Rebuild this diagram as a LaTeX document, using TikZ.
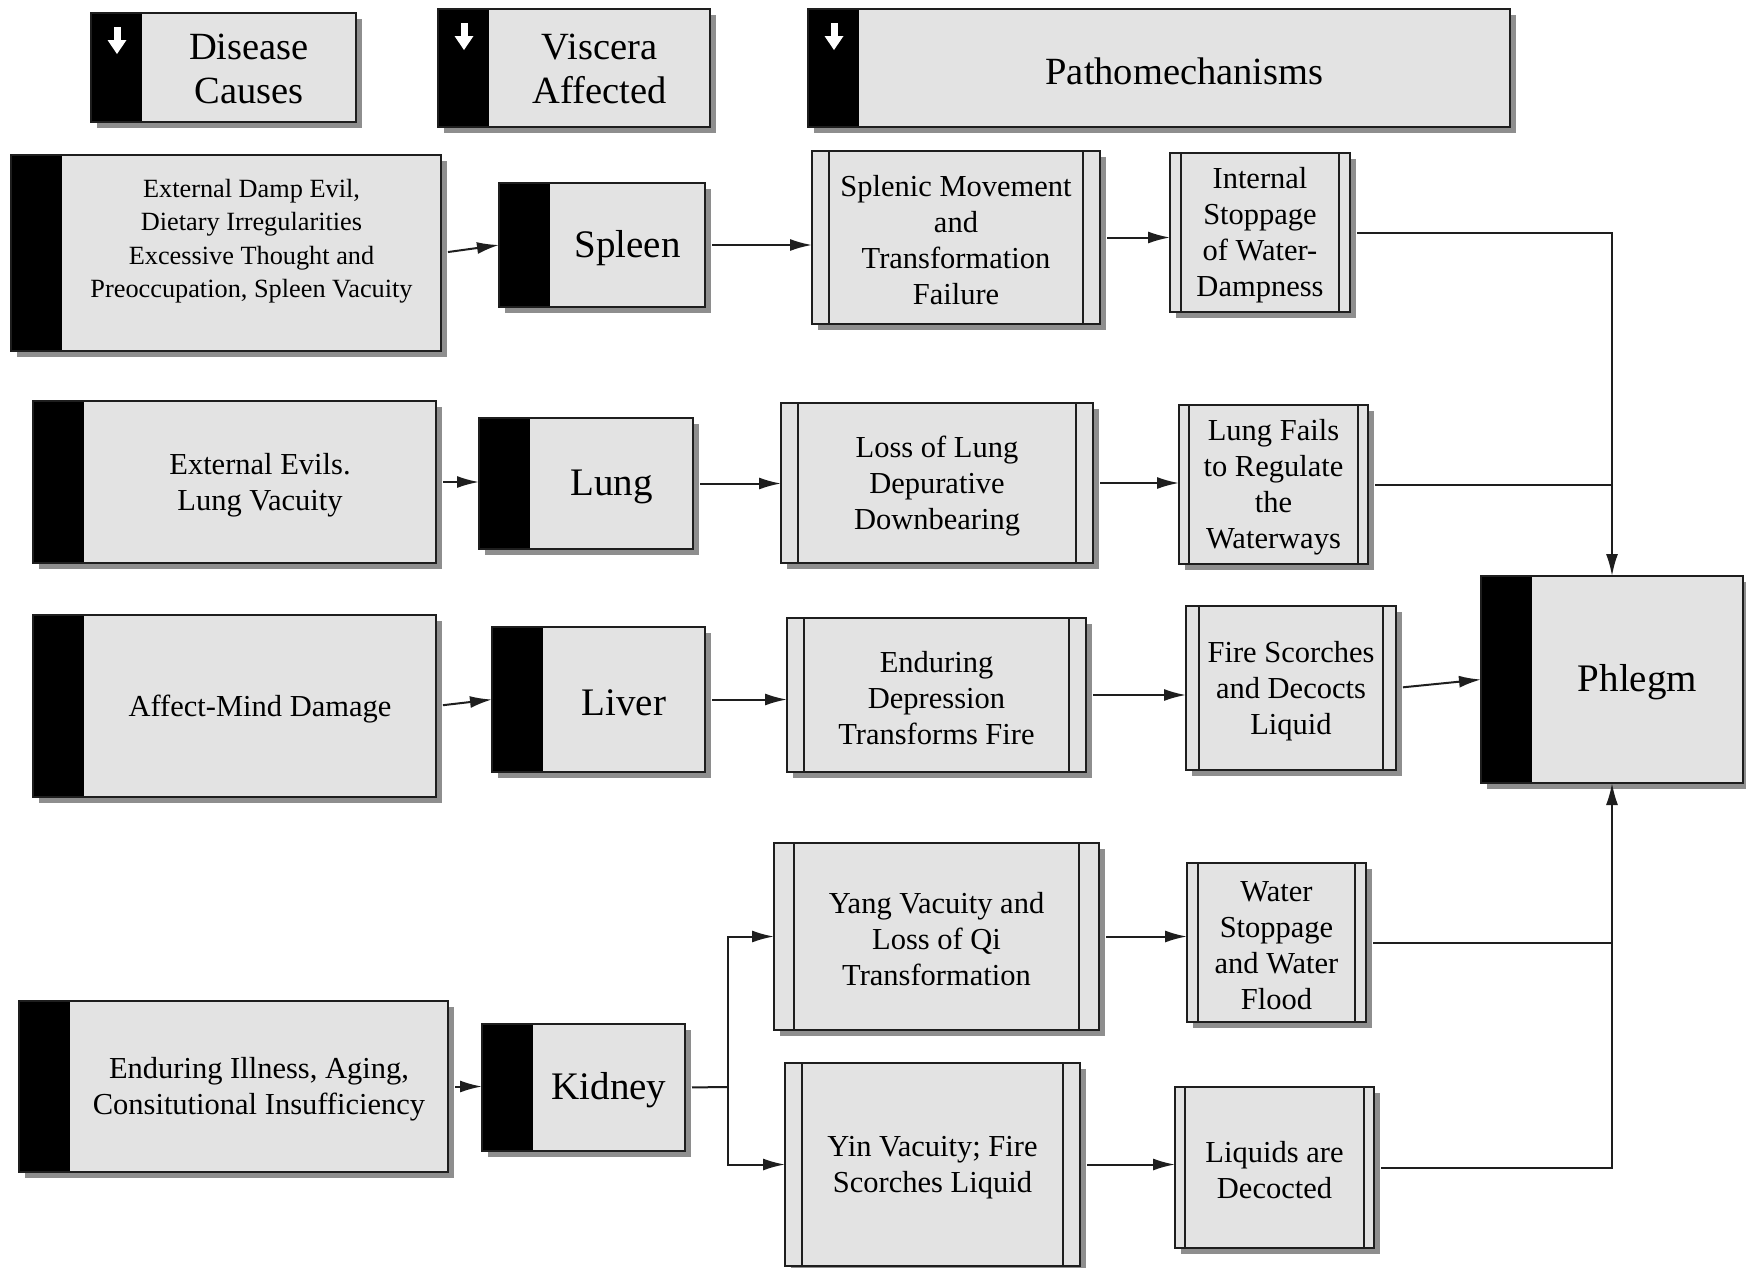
\documentclass[tikz,border=0pt]{standalone}
\usepackage{fontspec}
\setmainfont{Liberation Serif}
\usetikzlibrary{shadows,arrows.meta,calc}
\definecolor{boxgray}{HTML}{E3E3E3}
\definecolor{shadowgray}{HTML}{8E8E8E}
\definecolor{linegray}{HTML}{1E1E1E}
\newcommand\boxat[6]{\node[#1, minimum width={#5-#3}, minimum height={#6-#4}] (#2) at ({(#3+#5)/2},{(#4+#6)/2}) {};}
\newcommand\downarr[2]{%
  \fill[white] (#1-3.5,#2) rectangle (#1+3.5,#2+14);
  \fill[white] (#1-9.5,#2+13) -- (#1+9.5,#2+13) -- (#1,#2+27) -- cycle;}
\begin{document}
\begin{tikzpicture}[x=1pt,y=-1pt,
  boxbase/.style={draw=linegray, fill=boxgray, line width=1.6pt, inner sep=0pt, outer sep=0pt,
    drop shadow={shadow xshift=6pt, shadow yshift=-6pt, fill=shadowgray, opacity=1}},
  barbox/.style={boxbase, path picture={\fill[black] (path picture bounding box.north west) rectangle ([xshift=51pt]path picture bounding box.south west);}},
  dblbox/.style={boxbase, path picture={\draw[linegray,line width=1.6pt]
     ([xshift=#1]path picture bounding box.north west) -- ([xshift=#1]path picture bounding box.south west)
     ([xshift=-#1]path picture bounding box.north east) -- ([xshift=-#1]path picture bounding box.south east);}},
  dblbox/.default=17pt,
  txt/.style={align=center, text=black, inner sep=0pt},
  hfont/.style={txt, font=\fontsize{38.5}{44}\selectfont},
  vfont/.style={txt, font=\fontsize{39}{44}\selectfont},
  mfont/.style={txt, font=\fontsize{30.5}{36}\selectfont},
  sfont/.style={txt, font=\fontsize{26.3}{33.5}\selectfont},
  conn/.style={draw=linegray, line width=2pt, shorten <=7pt},
  arr/.style={conn, -{Latex[length=22pt,width=12pt]}},
  arrk/.style={draw=linegray, line width=2pt, -{Latex[length=22pt,width=12pt]}}
]
\fill[white] (0,0) rectangle (1746,1267);
\useasboundingbox (0,0) rectangle (1746,1267);

% headers
\boxat{barbox}{hdc}{91}{13}{356}{122}
\node[hfont] at ($(hdc.center)+(25.5,1)$) {Disease\\Causes};
\downarr{117}{27}
\boxat{barbox}{hva}{438}{9}{710}{127}
\node[hfont] at ($(hva.center)+(25.5,1)$) {Viscera\\Affected};
\downarr{464}{23}
\boxat{barbox}{hpm}{808}{9}{1510}{127}
\node[hfont] at ($(hpm.center)+(25.5,3)$) {Pathomechanisms};
\downarr{834}{23}

% disease causes
\boxat{barbox}{ca}{11}{155}{441}{351}
\node[sfont] at ($(ca.center)+(25.5,-12)$) {External Damp Evil,\\Dietary Irregularities\\Excessive Thought and\\Preoccupation, Spleen Vacuity};
\boxat{barbox}{cb}{33}{401}{436}{563}
\node[mfont] at ($(cb.center)+(25.5,3)$) {External Evils.\\Lung Vacuity};
\boxat{barbox}{cc}{33}{615}{436}{797}
\node[mfont] at ($(cc.center)+(25.5,3)$) {Affect-Mind Damage};
\boxat{barbox}{cd}{19}{1001}{448}{1172}
\node[mfont] at ($(cd.center)+(25.5,3)$) {Enduring Illness, Aging,\\Consitutional Insufficiency};

% viscera
\boxat{barbox}{spleen}{499}{183}{705}{307}
\node[vfont] at ($(spleen.center)+(25.5,3)$) {Spleen};
\boxat{barbox}{lung}{479}{418}{693}{549}
\node[vfont] at ($(lung.center)+(25.5,3)$) {Lung};
\boxat{barbox}{liver}{492}{627}{705}{772}
\node[vfont] at ($(liver.center)+(25.5,3)$) {Liver};
\boxat{barbox}{kidney}{482}{1024}{685}{1151}
\node[vfont] at ($(kidney.center)+(25.5,3)$) {Kidney};
\boxat{barbox}{phlegm}{1481}{576}{1743}{783}
\node[vfont] at ($(phlegm.center)+(25.5,3)$) {Phlegm};

% mechanisms, first column
\boxat{dblbox}{smtf}{812}{151}{1100}{324}
\node[mfont] at ($(smtf.center)+(0,3)$) {Splenic Movement\\and\\Transformation\\Failure};
\boxat{dblbox}{lldd}{781}{403}{1093}{563}
\node[mfont] at ($(lldd.center)+(0,3)$) {Loss of Lung\\Depurative\\Downbearing};
\boxat{dblbox}{edtf}{787}{618}{1086}{772}
\node[mfont] at ($(edtf.center)+(0,3)$) {Enduring\\Depression\\Transforms Fire};
\boxat{dblbox=20pt}{yang}{774}{843}{1099}{1030}
\node[mfont] at ($(yang.center)+(0,3)$) {Yang Vacuity and\\Loss of Qi\\Transformation};
\boxat{dblbox}{yin}{785}{1063}{1080}{1266}
\node[mfont] at ($(yin.center)+(0,3)$) {Yin Vacuity; Fire\\Scorches Liquid};

% mechanisms, second column
\boxat{dblbox=11pt}{isw}{1170}{153}{1350}{312}
\node[mfont] at ($(isw.center)+(0,3)$) {Internal\\Stoppage\\of Water-\\Dampness};
\boxat{dblbox=10pt}{lfrw}{1179}{405}{1368}{564}
\node[mfont] at ($(lfrw.center)+(0,3)$) {Lung Fails\\to Regulate\\the\\Waterways};
\boxat{dblbox=13pt}{fsdl}{1186}{606}{1396}{770}
\node[mfont] at ($(fsdl.center)+(0,3)$) {Fire Scorches\\and Decocts\\Liquid};
\boxat{dblbox=11pt}{wsf}{1187}{863}{1366}{1022}
\node[mfont] at ($(wsf.center)+(0,3)$) {Water\\Stoppage\\and Water\\Flood};
\boxat{dblbox=10pt}{lad}{1175}{1087}{1374}{1248}
\node[mfont] at ($(lad.center)+(0,3)$) {Liquids are\\Decocted};

% connectors
\draw[arr] (ca.east) -- (spleen.west);
\draw[arr] (spleen.east) -- (spleen.east -| smtf.west);
\draw[arr] (smtf.east) -- (smtf.east -| isw.west);
\draw[arr] (isw.east) -| (phlegm.north);

\draw[arr] (cb.east) -- (cb.east -| lung.west);
\draw[arr] (lung.east) -- (lung.east -| lldd.west);
\draw[arr] (lldd.east) -- (lldd.east -| lfrw.west);
\draw[conn] (lfrw.east) -- (lfrw.east -| phlegm.north);

\draw[arr] (cc.east) -- (liver.west);
\draw[arr] (liver.east) -- (liver.east -| edtf.west);
\draw[arr] (edtf.east) -- (edtf.east -| fsdl.west);
\draw[arr] (fsdl.east) -- (phlegm.west);

\draw[arr] (cd.east) -- (cd.east -| kidney.west);
\coordinate (kb) at (728,1087);
\draw[conn] (kidney.east) -- (kb);
\draw[arrk] (kb) |- (yang.west);
\draw[arrk] (kb) |- (yin.west);
\draw[arr] (yang.east) -- (yang.east -| wsf.west);
\draw[conn] (wsf.east) -- (wsf.east -| phlegm.south);
\draw[arr] (yin.east) -- (yin.east -| lad.west);
\draw[arr] (lad.east) -| (phlegm.south);
\end{tikzpicture}
\end{document}
